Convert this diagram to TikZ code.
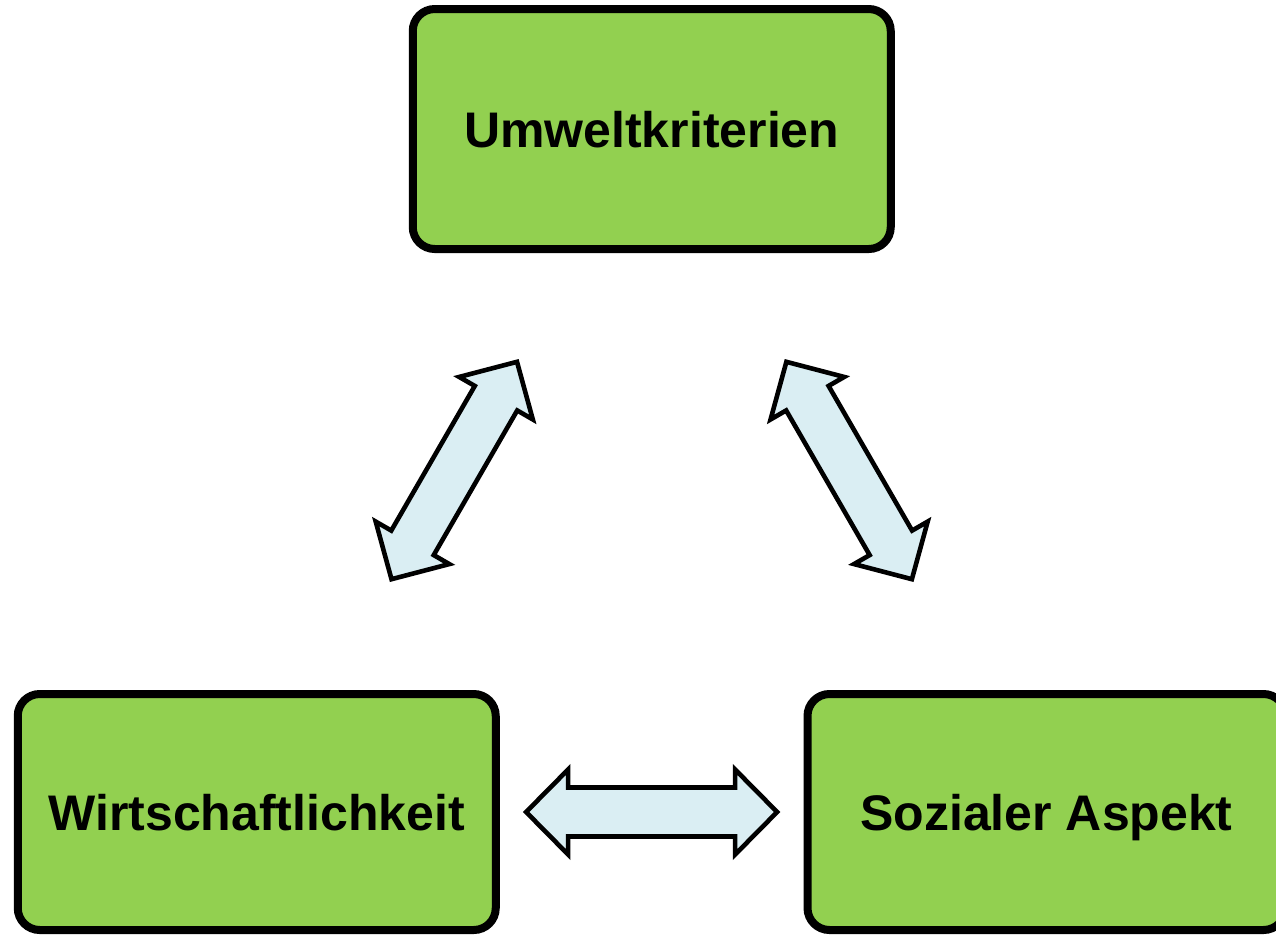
\documentclass[tikz,border=0pt]{standalone}
\usepackage{fontspec}
\setmainfont{Liberation Sans}
\usetikzlibrary{calc}
\definecolor{boxgreen}{HTML}{92D050}
\definecolor{arrowblue}{HTML}{DAEEF3}
\tikzset{
  topic/.style={draw=black, line width=4pt, fill=boxgreen, rounded corners=11pt,
    minimum width=239pt, inner sep=0pt, text height=18pt, text depth=0pt,
    font=\fontsize{25}{30}\selectfont\bfseries},
  blockarrow/.style={draw=black, line width=2.3pt, fill=arrowblue, line join=miter},
  dblarrow/.pic={
    \path[blockarrow] (-125.5,0) -- (-83.5,42.5) -- (-83.5,24.5) -- (83.5,24.5) -- (83.5,42.5)
      -- (125.5,0) -- (83.5,-42.5) -- (83.5,-24.5) -- (-83.5,-24.5) -- (-83.5,-42.5) -- cycle;
  }
}
\begin{document}
\begin{tikzpicture}[x=0.5pt, y=-0.5pt]
\useasboundingbox (0,0) rectangle (1276,934);
\clip (0,0) rectangle (1276,934);
\node[topic, minimum height=120pt] (U) at (651.75,129) {Umweltkriterien};
\node[topic, minimum height=118pt] (W) at (256.75,812) {Wirtschaftlichkeit};
\node[topic, minimum height=118pt] (S) at (1046.5,812) {Sozialer Aspekt};
\path ($(U)!0.5!(W)$) pic[rotate=60] {dblarrow};
\path ($(U)!0.5!(S)$) pic[rotate=-60] {dblarrow};
\path ($(W)!0.5!(S)$) pic {dblarrow};
\end{tikzpicture}
\end{document}
